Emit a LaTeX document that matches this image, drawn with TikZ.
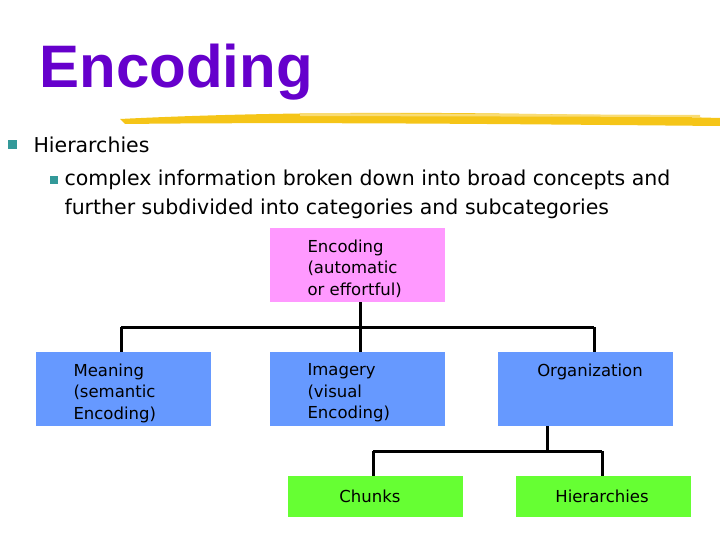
\documentclass[tikz,border=0pt]{standalone}
\usepackage{fontspec}
\setmainfont{DejaVu Sans}
\newfontfamily\ttlfont{Liberation Sans}
\begin{document}
\begin{tikzpicture}[x=1pt,y=-1pt,
  box/.style={draw=none,minimum width=175pt,minimum height=74pt,inner sep=0pt},
  lbl/.style={font=\fontsize{16.5}{21.5}\selectfont,align=left,anchor=north west},
  conn/.style={line width=3pt,black}]
\useasboundingbox (0,0) rectangle (720,540);
\definecolor{ttl}{HTML}{6600CC}
\definecolor{pk}{HTML}{FF99FF}
\definecolor{bl}{HTML}{6699FF}
\definecolor{gr}{HTML}{66FF33}
\definecolor{bul}{HTML}{339999}
\definecolor{yl}{HTML}{F5C518}
\node[anchor=west,text=ttl,font=\ttlfont\bfseries\fontsize{60}{62}\selectfont] (title) at (36,72) {Encoding};
\fill[yl] (120,119) .. controls (300,110) and (500,112) .. (720,118) -- (720,126) .. controls (500,124) and (300,122) .. (125,124) -- cycle;
\fill[yl!60] (300,113) -- (700,115) -- (700,117) -- (300,116) -- cycle;
\fill[bul] (8,140) rectangle (17,149);
\node[anchor=west,font=\fontsize{20.5}{24}\selectfont] (b1) at (30,145) {Hierarchies};
\fill[bul] (50,176) rectangle (58,184);
\node[anchor=north west,align=left,font=\fontsize{20.5}{29}\selectfont] (b2) at (61,166) {complex information broken down into broad concepts and\\further subdivided into categories and subcategories};
\node[box,fill=pk,anchor=north west] (enc) at (270,228) {};
\node[lbl] at (304,236) {Encoding\\(automatic\\or effortful)};
\node[box,fill=bl,anchor=north west] (mean) at (36,352) {};
\node[lbl] at (70,360) {Meaning\\(semantic\\Encoding)};
\node[box,fill=bl,anchor=north west] (img) at (270,352) {};
\node[lbl] at (304,360) {Imagery\\(visual\\Encoding)};
\node[box,fill=bl,anchor=north west] (org) at (498,352) {};
\node[lbl,anchor=north] at (590,360) {Organization};
\node[box,fill=gr,anchor=north west,minimum height=41pt] (chk) at (288,476) {};
\node[font=\fontsize{16.5}{20}\selectfont] at (370,496) {Chunks};
\node[box,fill=gr,anchor=north west,minimum height=41pt] (hie) at (516,476) {};
\node[font=\fontsize{16.5}{20}\selectfont] at (602,496) {Hierarchies};
\coordinate (j1) at (360,327);
\draw[conn] (enc.south -| j1) -- (j1);
\draw[conn] (121,327) -- (594,327);
\draw[conn] (121,327) -- (mean.north -| 121,0);
\draw[conn] (j1) -- (img.north -| j1);
\draw[conn] (594,327) -- (org.north -| 594,0);
\coordinate (j2) at (547,451);
\draw[conn] (org.south -| j2) -- (j2);
\draw[conn] (373,451) -- (602,451);
\draw[conn] (373,451) -- (chk.north -| 373,0);
\draw[conn] (602,451) -- (hie.north -| 602,0);
\end{tikzpicture}
\end{document}
